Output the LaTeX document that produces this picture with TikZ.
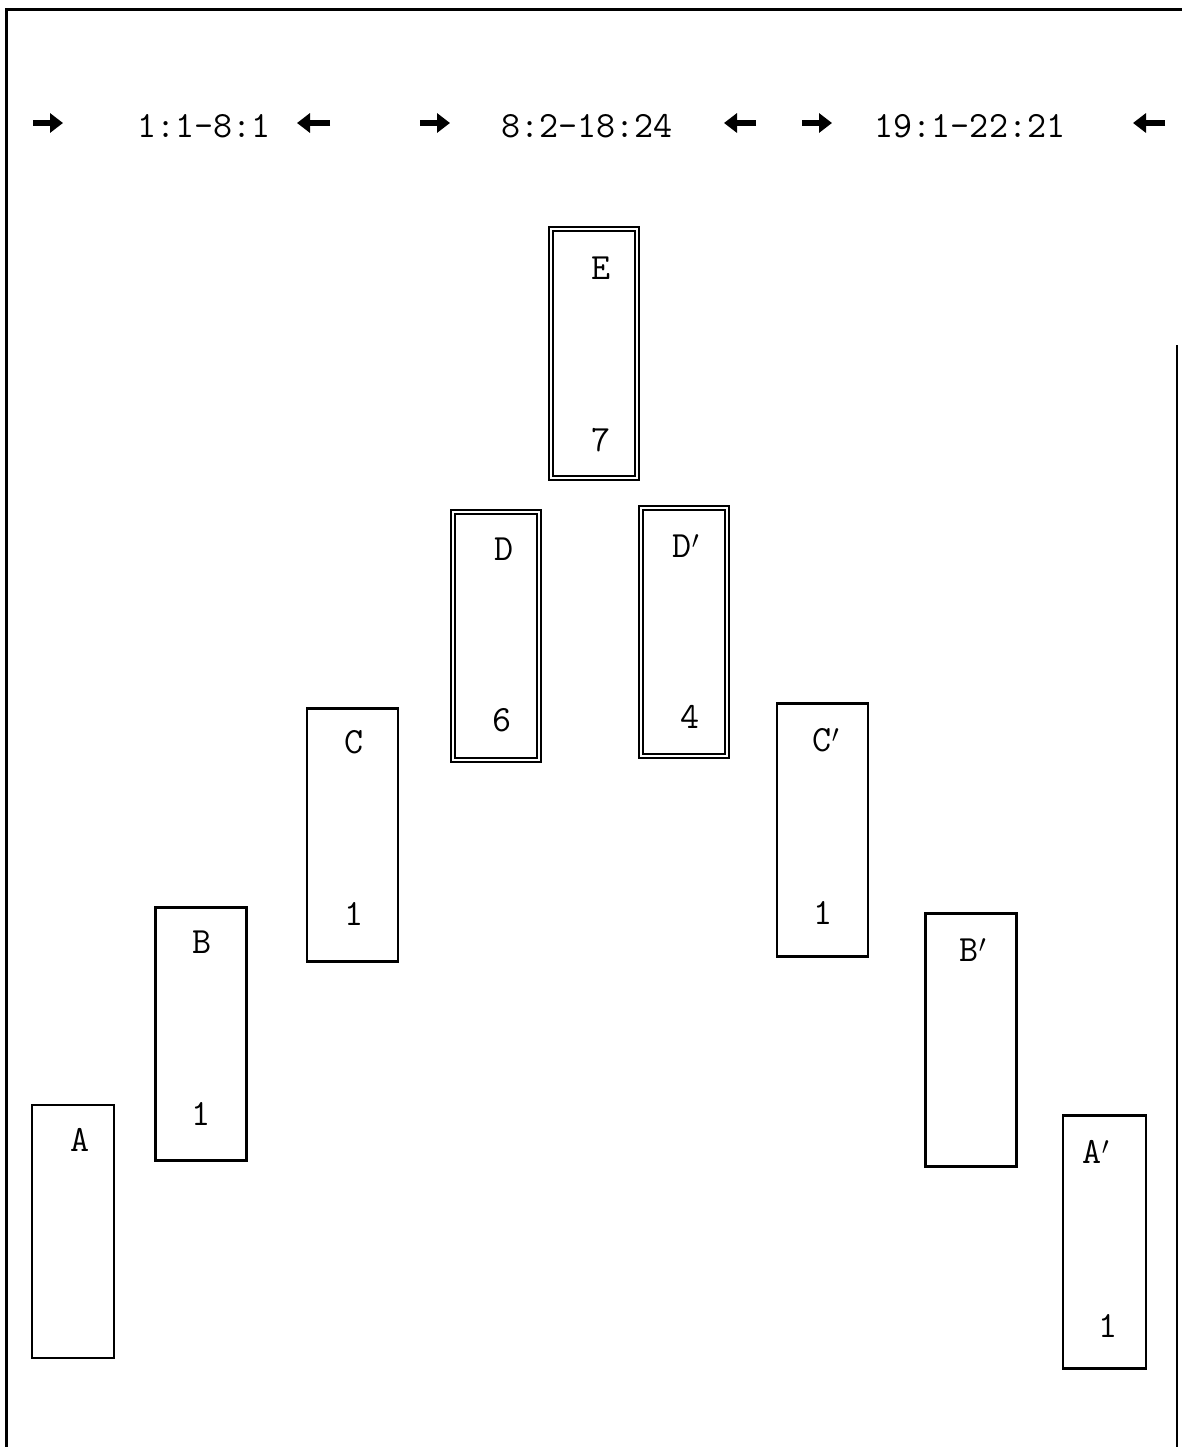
\documentclass[tikz,border=0pt]{standalone}
\usetikzlibrary{arrows.meta}
\begin{document}
\begin{tikzpicture}[x=1pt,y=-1pt,line width=2.2pt,
  font=\ttfamily\fontsize{37}{44}\selectfont,
  box/.style={draw,minimum width=91pt,minimum height=253pt,inner sep=0pt},
  dbox/.style={draw,double,line width=2pt,double distance=2pt,
    minimum width=86pt,minimum height=248pt,inner sep=0pt},
  fat/.style={line width=6pt,-{Triangle[length=13pt,width=19pt]}}]
  \useasboundingbox (0,0) rectangle (1182,1447);

  % frame
  \draw[line width=3pt] (6,1447) -- (6,10) -- (1182,10);
  \draw[line width=2pt] (1177,345) -- (1177,1447);

  % header ranges
  \node (r1) at (204,126) {1:1-8:1};
  \node (r2) at (587,126) {8:2-18:24};
  \node (r3) at (970,126) {19:1-22:21};
  \draw[fat] (33,123) -- (63,123);
  \draw[fat] (330,123) -- (297,123);
  \draw[fat] (420,123) -- (450,123);
  \draw[fat] (756,123) -- (724,123);
  \draw[fat] (802,123) -- (832,123);
  \draw[fat] (1165,123) -- (1133,123);

  % boxes
  \node[dbox] (E) at (594,353.5) {};
  \node[dbox] (D) at (496,636) {};
  \node[dbox] (D1) at (684,631.5) {};
  \node[box] (C) at (352.5,835) {};
  \node[box] (C1) at (822.5,830) {};
  \node[box] (B) at (201,1034) {};
  \node[box] (B1) at (971,1040) {};
  \node[box,minimum width=82pt] (A) at (73,1231.5) {};
  \node[box,minimum width=83pt] (A1) at (1104.5,1242) {};

  % box labels
  \node (lE) at (601,268) {E};
  \node (nE) at (601,440) {7};
  \node (lD) at (504,549) {D};
  \node (nD) at (502,720) {6};
  \node (lD1) at (686,546) {D$'$};
  \node (nD1) at (690,717) {4};
  \node (lC) at (354,742) {C};
  \node (nC) at (354,914) {1};
  \node (lC1) at (826,740) {C$'$};
  \node (nC1) at (823,913) {1};
  \node (lB) at (202,942) {B};
  \node (nB) at (201,1114) {1};
  \node (lB1) at (973,950) {B$'$};
  \node (lA) at (80,1140) {A};
  \node (lA1) at (1096,1152) {A$'$};
  \node (nA1) at (1108,1326) {1};
\end{tikzpicture}
\end{document}
